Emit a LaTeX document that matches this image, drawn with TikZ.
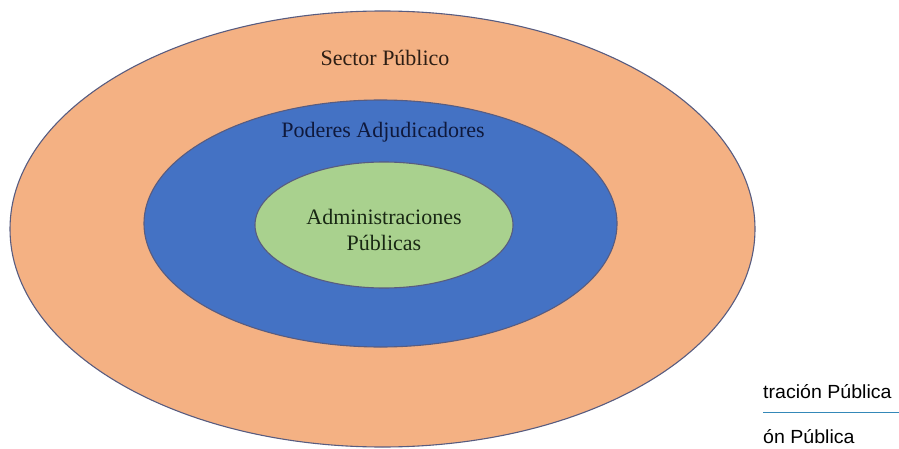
\documentclass[tikz,border=0pt]{standalone}
\usepackage{fontspec}
\setmainfont{Liberation Serif}
\newfontfamily\sansfont{Liberation Sans}
\usepackage{tikz}
\usetikzlibrary{shapes.geometric}

\definecolor{sectororange}{HTML}{F4B183}
\definecolor{poderesblue}{HTML}{4472C4}
\definecolor{admingreen}{HTML}{A9D18E}
\definecolor{rimgray}{RGB}{88,92,128}
\definecolor{tabline}{RGB}{52,136,184}

\tikzset{
  ring/.style={shape=ellipse,draw=rimgray,line width=1.1pt,inner sep=0pt},
  ringtext/.style={font=\fontsize{22}{26}\selectfont,anchor=base,align=center},
  tabtext/.style={font=\sansfont\fontsize{19}{22}\selectfont,anchor=base west,inner sep=0pt}
}

\begin{document}
\begin{tikzpicture}[x=1pt,y=1pt]
\useasboundingbox (0,0) rectangle (899,448);
\node[ring,fill=sectororange,minimum width=745pt,minimum height=436pt] (SP) at (382.5,219) {};
\node[ring,fill=poderesblue,minimum width=473pt,minimum height=247pt] (PA) at (380.5,224.5) {};
\node[ring,fill=admingreen,minimum width=258pt,minimum height=126pt] (AP) at (384,223) {};
\node[ringtext,text={rgb,255:red,45;green,30;blue,20}] (SPlabel) at (385,382) {Sector Público};
\node[ringtext,text={rgb,255:red,15;green,25;blue,60}] (PAlabel) at (383,310) {Poderes Adjudicadores};
\node[ringtext,text={rgb,255:red,25;green,40;blue,20}] (APlabel) at (384,198) {Administraciones\\Públicas};
\node[tabtext] (tabA) at (763,50) {\scalebox{1.03}[1]{tración Pública}};
\node[tabtext] (tabB) at (763,5) {\scalebox{1.03}[1]{ón Pública}};
\draw[tabline,line width=1.5pt] (tabA.south west) ++(0,-14) coordinate (tabL) -- (tabL -| 899,0);
\end{tikzpicture}
\end{document}
